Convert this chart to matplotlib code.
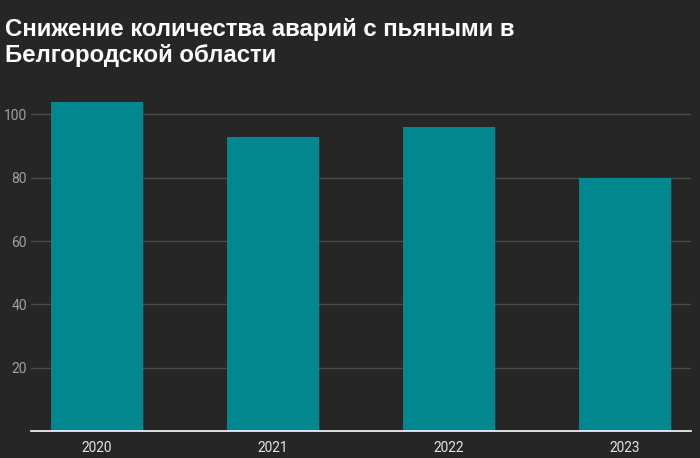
import matplotlib.pyplot as plt

years = ['2020', '2021', '2022', '2023']
accidents = [104, 93, 96, 80]
yticks = [20, 40, 60, 80, 100]

bg = '#262626'
plt.rcParams['font.family'] = ['Liberation Sans', 'DejaVu Sans']

fig = plt.figure(figsize=(7, 4.58), dpi=100, facecolor=bg)
# axes box in pixels: x 31..691, y 90..431 (from top)
ax = fig.add_axes([31/700, (458-431)/458, 660/700, 341/458], facecolor=bg)

x = range(len(years))
ax.bar(x, accidents, width=0.523, color='#00878f', zorder=3)

ax.set_xlim(-0.375, 3.375)
ax.set_ylim(0, 107.7)
ax.set_yticks(yticks)
ax.set_yticklabels([str(v) for v in yticks], color='#a0a0a0', fontsize=10, family='Roboto')
ax.set_xticks(list(x))
ax.set_xticklabels(years, color='#e6e6e6', fontsize=9.8, family='Roboto')
ax.tick_params(axis='both', length=0)
ax.tick_params(axis='y', pad=3)
ax.tick_params(axis='x', pad=7)
ax.grid(axis='y', color='#4a4a4a', linewidth=1, zorder=0)

for s in ['top', 'right', 'left']:
    ax.spines[s].set_visible(False)
ax.spines['bottom'].set_color('#ffffff')
ax.spines['bottom'].set_linewidth(1.2)
ax.spines['bottom'].set_zorder(4)

fig.text(5/700, 1 - 18/458, 'Снижение количества аварий с пьяными в\nБелгородской области',
         color='white', fontsize=17.3, fontweight='bold', va='top', ha='left',
         linespacing=1.15)

fig.savefig('out.png', dpi=100, facecolor=bg)
